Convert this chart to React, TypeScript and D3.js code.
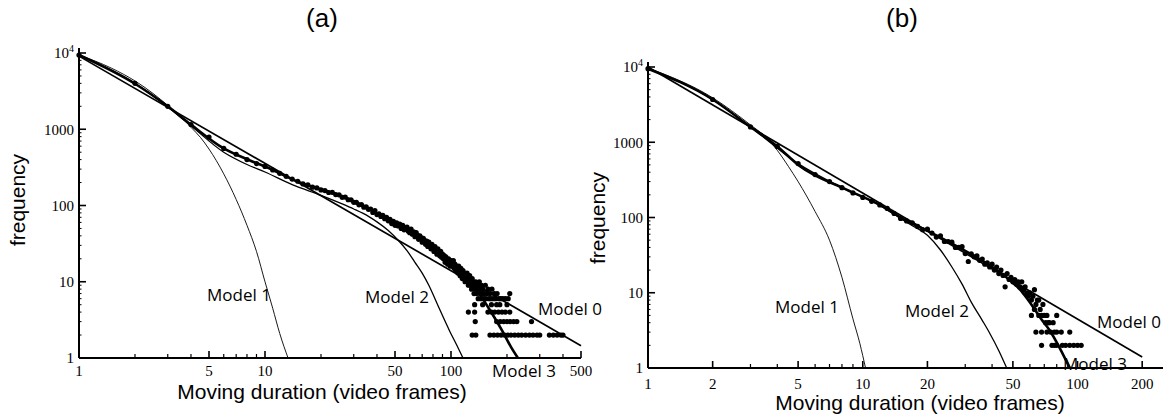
import React from 'react';
import * as d3 from 'd3';

type Pt = [number, number];

// ---------------- Panel (a) data ----------------
// counts for moving durations 1..100 frames
const aCountsFrames1to100: number[] = [
  9400, 4000, 2000, 1150, 790, 560, 470, 400, 355, 325,
  292, 264, 241, 222, 208, 192, 186, 174, 170, 160,
  157, 148, 149, 139, 138, 128, 129, 119, 119, 110,
  110, 102, 103, 95, 96, 89, 90, 81, 86, 76,
  78, 72, 74, 67, 70, 63, 66, 58, 62, 55,
  59, 54, 57, 50, 55, 48, 51, 52, 46, 44,
  49, 42, 45, 39, 44, 41, 36, 40, 38, 33,
  37, 35, 31, 34, 29, 33, 30, 27, 31, 28,
  25, 29, 26, 23, 27, 24, 22, 25, 21, 23,
  20, 22, 18, 21, 19, 17, 20, 18, 16, 19,
];
// (frames, count) for longer durations
const aTailPoints: Pt[] = [
  [101, 18], [102, 16], [103, 19], [104, 15], [105, 17], [106, 14], [107, 16], [108, 15], [109, 13], [110, 16],
  [111, 14], [112, 12], [113, 15], [114, 13], [115, 11], [116, 14], [117, 12], [118, 13], [119, 10], [120, 12],
  [121, 11], [122, 13], [123, 10], [124, 9], [125, 11], [126, 12], [127, 9], [128, 10], [129, 8], [130, 11],
  [131, 9], [132, 10], [133, 7], [134, 9], [135, 8], [136, 10], [137, 7], [138, 9], [139, 8], [140, 6],
  [141, 9], [142, 10], [143, 7], [144, 8], [145, 6], [146, 9], [147, 7], [148, 8], [150, 6], [151, 7],
  [153, 9], [154, 6], [156, 7], [158, 8], [160, 6], [162, 7], [164, 6], [166, 8], [169, 6], [171, 7],
  [174, 6], [177, 7], [181, 6], [185, 6], [190, 6], [196, 6], [203, 6], [207, 7],
  [134, 5], [148, 5], [165, 5], [176, 5], [183, 5], [200, 5],
  [124, 4], [134, 4], [158, 4], [165, 4], [172, 4], [180, 4], [188, 4], [196, 4], [207, 4],
  [135, 3], [176, 3], [184, 3], [192, 3], [200, 3], [208, 3], [217, 3], [226, 3], [271, 3],
  [130, 2], [136, 2], [162, 2], [170, 2], [178, 2], [186, 2], [194, 2], [202, 2], [210, 2], [220, 2],
  [230, 2], [240, 2], [252, 2], [264, 2], [276, 2], [290, 2], [300, 2], [338, 2], [355, 2], [372, 2],
  [390, 2], [400, 2],
];
const aModel0: Pt[] = [[1, 9100], [500, 1.45]];
const aModel1: Pt[] = [
  [1, 9400], [1.5, 6300], [2, 4300], [2.5, 2950], [3, 2050], [3.5, 1480], [4, 1060], [4.5, 780],
  [5, 550], [6, 260], [7, 120], [8, 55], [9, 25], [10, 10], [11, 4.5], [12, 2.1], [13.3, 1],
];
const aModel2: Pt[] = [
  [1, 9400], [2, 4000], [3, 1960], [4, 1110], [6, 500], [8, 345], [10, 275], [14, 188], [20, 136],
  [26, 105], [30, 90], [36, 72], [40, 61], [46, 47], [52, 35], [58, 25.6], [64, 18], [70, 13],
  [76, 9], [82, 6], [90, 3.6], [98, 2.3], [107, 1.5], [116, 1],
];
const aModel3: Pt[] = [
  [1, 9400], [2, 3950], [3, 2000], [4, 1150], [6, 560], [8.3, 390], [10, 325], [15.4, 200],
  [26.2, 131], [36.7, 89], [46.9, 63], [60, 46], [84, 25.6], [112, 14], [130, 9.5], [148, 6],
  [170, 3.5], [190, 2.2], [210, 1.4], [229, 1],
];
const aXTickLabels = [1, 5, 10, 50, 100, 500];

// ---------------- Panel (b) data ----------------
const bCountsFrames1to50: number[] = [
  9500, 3700, 1600, 880, 520, 372, 300, 249, 212, 185,
  164, 147, 132, 113, 97, 90, 85, 76, 69, 70,
  62, 55, 57, 48, 48, 47, 40, 40, 41, 33,
  26, 33, 30, 31, 27, 28, 24, 25, 22, 24,
  20, 22, 18, 20, 17, 12, 18, 15, 16, 14,
];
const bTailPoints: Pt[] = [
  [51, 15], [52, 13], [53, 14], [54, 12], [55, 14], [56, 11], [57, 12], [58, 10], [59, 9], [60, 10],
  [61, 5], [61, 8], [62, 9], [63, 6], [63, 11], [64, 7], [65, 8], [66, 8], [66, 5], [67, 6],
  [68, 5], [69, 7], [70, 5], [71, 4], [72, 5], [73, 4], [74, 4], [77, 4], [80, 5],
  [64, 3], [68, 3], [72, 3], [75, 3], [78, 3], [80, 3], [84, 3], [92, 3],
  [68, 2], [76, 2], [78, 2], [80, 2], [85, 2], [88, 2], [92, 2], [96, 2], [100, 2], [104, 2],
];
const bModel0: Pt[] = [[1, 10000], [200, 1.4]];
const bModel1: Pt[] = [
  [1, 9700], [2, 3900], [3, 1700], [3.5, 1200], [4, 780], [4.5, 480], [5, 300], [6, 120],
  [7, 50], [8, 16], [9, 4.5], [9.7, 2.1], [10.3, 1],
];
const bModel2: Pt[] = [
  [1, 9500], [2, 3700], [3, 1600], [5, 520], [8, 250], [12, 145], [16.5, 82], [20, 58],
  [23, 37], [26, 22], [29, 13], [32, 7.5], [36, 4.3], [39, 2.9], [43, 1.7], [46.8, 1],
];
const bModel3: Pt[] = [
  [1, 9500], [2, 3700], [3, 1600], [4, 880], [5.1, 480], [8.4, 235], [12, 147], [15, 100],
  [21, 62], [30, 36], [40, 22], [45, 17.5], [50, 13.5], [54, 11], [58, 8.5], [62, 6.5],
  [68, 4.4], [74, 3.2], [83, 1.8], [92, 1],
];
const bXTickLabels = [1, 2, 5, 10, 20, 50, 100, 200];

const yTickValues = [1, 10, 100, 1000, 10000];
const modelNames = ['Model 0', 'Model 1', 'Model 2', 'Model 3'];

interface PanelCfg {
  title: string;
  titleX: number;
  xDomain: [number, number];
  xRange: [number, number];
  yRange: [number, number];
  points: Pt[];
  models: Pt[][];
  xTicks: number[];
  labelPos: Pt[];
  xTitleX: number;
  xTitleY: number;
  yTitleX: number;
  yTitleY: number;
  tickLabelY: number;
}

const SANS = 'Liberation Sans, Arial, Helvetica, sans-serif';
const SERIF = 'Liberation Serif, Times New Roman, serif';
const LABEL = 'Open Sans, Liberation Sans, sans-serif';

const modelStroke = [1.7, 0.9, 1.3, 2.6];

function Panel({ cfg }: { cfg: PanelCfg }) {
  const x = d3.scaleLog().domain(cfg.xDomain).range(cfg.xRange);
  const y = d3.scaleLog().domain([1, 10000]).range(cfg.yRange);
  const line = d3
    .line<Pt>()
    .x((d) => x(d[0]))
    .y((d) => y(d[1]))
    .curve(d3.curveMonotoneX);

  const x0 = cfg.xRange[0];
  const yBase = y(1);

  const xMinor: number[] = [];
  for (let dec = 1; dec <= 1000; dec *= 10) {
    for (let k = 1; k <= 9; k++) {
      const v = k * dec;
      if (v > cfg.xDomain[0] && v <= cfg.xDomain[1] && !cfg.xTicks.includes(v)) xMinor.push(v);
    }
  }
  const yMinor: number[] = [];
  for (let dec = 1; dec < 10000; dec *= 10) {
    for (let k = 2; k <= 9; k++) yMinor.push(k * dec);
  }

  return (
    <g>
      <text x={cfg.titleX} y={27} fontFamily={SANS} fontSize={26} textAnchor="middle">
        {cfg.title}
      </text>
      <line x1={x0} x2={x0} y1={y(10000) - 5} y2={yBase} stroke="#000" strokeWidth={2} />
      <line x1={x0} x2={cfg.xRange[1]} y1={yBase} y2={yBase} stroke="#000" strokeWidth={2.2} />
      {yMinor.map((v) => (
        <line key={'ym' + v} x1={x0} x2={x0 + 2.5} y1={y(v)} y2={y(v)} stroke="#000" strokeWidth={1} />
      ))}
      {yTickValues.map((v) => (
        <g key={'yt' + v}>
          {v > 1 && <line x1={x0 - 1} x2={x0 + 7} y1={y(v)} y2={y(v)} stroke="#000" strokeWidth={1.6} />}
          <text x={x0 - 5} y={y(v)} dy="0.35em" textAnchor="end" fontFamily={SERIF} fontSize={15}>
            {v === 10000 ? (
              <>
                10<tspan dy={-6} fontSize={10}>4</tspan>
              </>
            ) : (
              String(v)
            )}
          </text>
        </g>
      ))}
      {xMinor.map((v) => (
        <line key={'xm' + v} x1={x(v)} x2={x(v)} y1={yBase} y2={yBase - 4} stroke="#000" strokeWidth={1.2} />
      ))}
      {cfg.xTicks.map((v) => (
        <g key={'xt' + v}>
          <line x1={x(v)} x2={x(v)} y1={yBase} y2={yBase - 7} stroke="#000" strokeWidth={1.6} />
          <text x={x(v)} y={cfg.tickLabelY} textAnchor="middle" fontFamily={SERIF} fontSize={15}>
            {v}
          </text>
        </g>
      ))}
      {cfg.models.map((m, i) => (
        <path key={'m' + i} d={line(m) || ''} fill="none" stroke="#000" strokeWidth={modelStroke[i]} />
      ))}
      {cfg.points.map((p, i) => (
        <circle key={'p' + i} cx={x(p[0])} cy={y(p[1])} r={2.6} fill="#000" />
      ))}
      {modelNames.map((n, i) => (
        <text key={'l' + i} x={cfg.labelPos[i][0]} y={cfg.labelPos[i][1]} fontFamily={LABEL} fontSize={17}>
          {n}
        </text>
      ))}
      <text x={cfg.xTitleX} y={cfg.xTitleY} textAnchor="middle" fontFamily={SANS} fontSize={21}>
        Moving duration (video frames)
      </text>
      <text
        transform={`translate(${cfg.yTitleX},${cfg.yTitleY}) rotate(-90)`}
        textAnchor="middle"
        fontFamily={SANS}
        fontSize={21}
      >
        frequency
      </text>
    </g>
  );
}

export default function App() {
  const aPoints: Pt[] = aCountsFrames1to100.map((c, i) => [i + 1, c] as Pt).concat(aTailPoints);
  const bPoints: Pt[] = bCountsFrames1to50.map((c, i) => [i + 1, c] as Pt).concat(bTailPoints);

  const panelA: PanelCfg = {
    title: '(a)',
    titleX: 322,
    xDomain: [1, 500],
    xRange: [79, 581],
    yRange: [358, 53],
    points: aPoints,
    models: [aModel0, aModel1, aModel2, aModel3],
    xTicks: aXTickLabels,
    labelPos: [[538, 315], [207, 301], [365, 303], [492, 377]],
    xTitleX: 322,
    xTitleY: 399,
    yTitleX: 25,
    yTitleY: 200,
    tickLabelY: 376,
  };
  const panelB: PanelCfg = {
    title: '(b)',
    titleX: 902,
    xDomain: [1, 250],
    xRange: [648, 1163],
    yRange: [368, 67],
    points: bPoints,
    models: [bModel0, bModel1, bModel2, bModel3],
    xTicks: bXTickLabels,
    labelPos: [[1097, 328], [775, 313], [905, 317], [1063, 370]],
    xTitleX: 920,
    xTitleY: 410,
    yTitleX: 605,
    yTitleY: 218,
    tickLabelY: 389,
  };

  return (
    <svg
      width={1165}
      height={419}
      viewBox="0 0 1165 419"
      style={{ position: 'absolute', left: 0, top: 0, background: '#fff' }}
    >
      <rect width={1165} height={419} fill="#fff" />
      <Panel cfg={panelA} />
      <Panel cfg={panelB} />
    </svg>
  );
}
